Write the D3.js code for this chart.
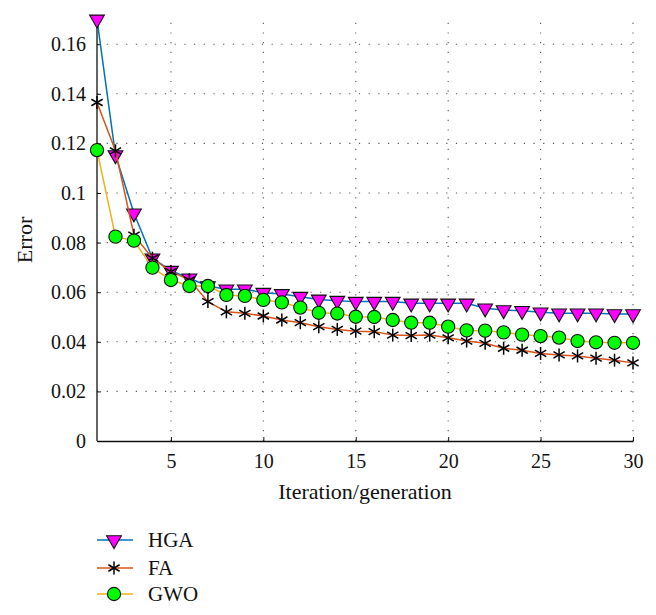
<!DOCTYPE html>
<html><head><meta charset="utf-8">
<script src="https://cdn.jsdelivr.net/npm/d3@7"></script>
<style>body{margin:0;background:#fff}svg{display:block}text{font-family:"Liberation Serif","DejaVu Serif",serif;fill:#111}</style>
</head><body><svg id="c" width="656" height="615"></svg>
<script>
const iterations = d3.range(1, 31);
const hga = [0.170,0.1153,0.0918,0.0737,0.0687,0.0656,0.0625,0.0612,0.0612,0.0598,0.0593,0.0582,0.0571,0.0566,0.0562,0.0562,0.0562,0.0555,0.0555,0.0555,0.0555,0.0535,0.0528,0.0525,0.0519,0.0515,0.0515,0.0515,0.0512,0.0512];
const fa  = [0.1365,0.117,0.083,0.0737,0.0683,0.0650,0.0562,0.0521,0.0515,0.0504,0.0488,0.0477,0.0461,0.0450,0.0443,0.0441,0.0427,0.0425,0.0427,0.0416,0.0403,0.0394,0.0374,0.0366,0.0353,0.0347,0.0343,0.0334,0.0326,0.0315];
const gwo = [0.1173,0.0824,0.0808,0.0699,0.0649,0.0625,0.0625,0.0589,0.0585,0.0569,0.0559,0.0538,0.0517,0.0514,0.0501,0.0500,0.0488,0.0477,0.0477,0.0461,0.0446,0.0445,0.0438,0.0429,0.0423,0.0417,0.0403,0.0398,0.0396,0.0396];
const xTicks = [5,10,15,20,25,30];
const yTicks = [0,0.02,0.04,0.06,0.08,0.1,0.12,0.14,0.16];
const yTickLabels = ["0","0.02","0.04","0.06","0.08","0.1","0.12","0.14","0.16"];
const seriesNames = ["HGA","FA","GWO"];

const svg = d3.select("#c");
const x = d3.scaleLinear().domain([1,30]).range([97,633]);
const y = d3.scaleLinear().domain([0,0.17]).range([441,19.4]);

// grid
const grid = svg.append("g").attr("stroke","#555").attr("stroke-width",1.1).attr("stroke-dasharray","1.2,8.5").attr("fill","none");
xTicks.forEach(t=>grid.append("line").attr("x1",x(t)).attr("x2",x(t)).attr("y1",y(0)).attr("y2",y(0.17)));
yTicks.slice(1).forEach(t=>grid.append("line").attr("x1",x(1)).attr("x2",x(30)).attr("y1",y(t)).attr("y2",y(t)));

// axes
const xAxis = d3.axisBottom(x).tickValues(xTicks).tickSizeInner(-4).tickSizeOuter(0).tickPadding(13);
const gx = svg.append("g").attr("transform","translate(0,441)").call(xAxis);
const yAxis = d3.axisLeft(y).tickValues(yTicks).tickFormat((d,i)=>yTickLabels[i]).tickSizeInner(-4).tickSizeOuter(0).tickPadding(11);
const gy = svg.append("g").attr("transform","translate(97,0)").call(yAxis);
[gx,gy].forEach(g=>{g.select(".domain").attr("stroke","#111").attr("stroke-width",1.3);g.selectAll(".tick line").attr("stroke","#111");g.selectAll("text").style("font-size","20px").attr("fill","#111");});
gy.select(".domain").attr("d","M0,441V19.4");

svg.append("text").attr("x",365).attr("y",499).attr("text-anchor","middle").style("font-size","22px").text("Iteration/generation");
svg.append("text").attr("transform","translate(32,240) rotate(-90)").attr("text-anchor","middle").style("font-size","22px").text("Error");

const cols = {HGA:"#0072BD", FA:"#D95319", GWO:"#EDB120"};
const tri = d3.symbol().type(d3.symbolTriangle).size(95);
function drawMarker(g, name, cx, cy){
  if(name==="HGA"){
    g.append("path").attr("d",tri()).attr("transform",`translate(${cx},${cy}) rotate(180)`).attr("fill","#FF00FF").attr("stroke","#111").attr("stroke-width",1.1);
  } else if(name==="FA"){
    const r=6.5, p=g.append("g").attr("transform",`translate(${cx},${cy})`).attr("stroke","#000").attr("stroke-width",1.5);
    [90,30,-30].forEach(a=>{const rad=a*Math.PI/180;p.append("line").attr("x1",-r*Math.cos(rad)).attr("y1",-r*Math.sin(rad)).attr("x2",r*Math.cos(rad)).attr("y2",r*Math.sin(rad));});
  } else {
    g.append("circle").attr("cx",cx).attr("cy",cy).attr("r",6.6).attr("fill","#00FF00").attr("stroke","#111").attr("stroke-width",1.1);
  }
}
const data = {HGA:hga, FA:fa, GWO:gwo};
const line = d3.line().x((d,i)=>x(iterations[i])).y(d=>y(d));
seriesNames.forEach(name=>{
  const g = svg.append("g");
  g.append("path").datum(data[name]).attr("d",line).attr("fill","none").attr("stroke",cols[name]).attr("stroke-width",1.5);
  data[name].forEach((v,i)=>drawMarker(g,name,x(iterations[i]),y(v)));
});

// legend
const legY = [540,568,594];
seriesNames.forEach((name,i)=>{
  const g = svg.append("g");
  g.append("line").attr("x1",97).attr("x2",133).attr("y1",legY[i]).attr("y2",legY[i]).attr("stroke",cols[name]).attr("stroke-width",1.5);
  drawMarker(g,name,114,legY[i]);
  g.append("text").attr("x",148).attr("y",legY[i]+7).style("font-size","21px").text(name);
});
</script></body></html>
